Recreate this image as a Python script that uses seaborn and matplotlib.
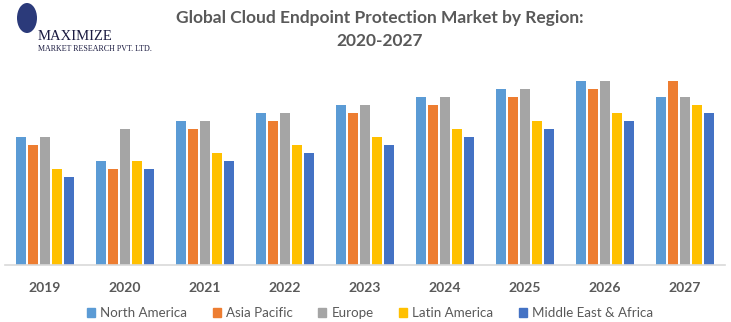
import matplotlib
matplotlib.use("Agg")
import matplotlib.pyplot as plt
import seaborn as sns
import pandas as pd
from matplotlib.patches import Ellipse

years = ["2019", "2020", "2021", "2022", "2023", "2024", "2025", "2026", "2027"]
regions = ["North America", "Asia Pacific", "Europe", "Latin America", "Middle East & Africa"]
north_america = [16, 13, 18, 19, 20, 21, 22, 23, 21]
asia_pacific = [15, 12, 17, 18, 19, 20, 21, 22, 23]
europe = [16, 17, 18, 19, 20, 21, 22, 23, 21]
latin_america = [12, 13, 14, 15, 16, 17, 18, 19, 20]
middle_east_africa = [11, 12, 13, 14, 15, 16, 17, 18, 19]
colors = ["#5B9BD5", "#ED7D31", "#A5A5A5", "#FFC000", "#4472C4"]

series = [north_america, asia_pacific, europe, latin_america, middle_east_africa]
df = pd.DataFrame([
    {"Year": y, "Region": r, "Value": v}
    for r, vals in zip(regions, series) for y, v in zip(years, vals)
])

sns.set_style("white")
plt.rcParams["font.family"] = ["Lato", "DejaVu Sans"]
fig = plt.figure(figsize=(7.31, 3.22), dpi=100)
ax = fig.add_axes([5/731, 1 - 265/322, 720/731, 200/322])
sns.barplot(data=df, x="Year", y="Value", hue="Region", palette=colors,
            order=years, hue_order=regions, width=0.75, gap=0.17,
            saturation=1, linewidth=0, ax=ax, legend=False)
ax.set_xlim(-0.5, 8.5)
ax.set_ylim(0, 25)
ax.set_yticks([])
ax.set_xlabel("")
ax.set_ylabel("")
for s in ["top", "right", "left"]:
    ax.spines[s].set_visible(False)
ax.spines["bottom"].set_color("#D9D9D9")
ax.spines["bottom"].set_linewidth(1.2)
ax.tick_params(axis="x", length=0, pad=12)
for lab in ax.get_xticklabels():
    lab.set_fontweight("bold")
    lab.set_color("#595959")
    lab.set_fontsize(10)

# Legend
handles = [plt.Rectangle((0, 0), 1, 1, color=c) for c in colors]
fig.legend(handles, regions, loc="center", bbox_to_anchor=(370/731, 1 - 313/322),
           ncol=5, frameon=False, fontsize=9.6, handlelength=0.6, handleheight=0.6,
           handletextpad=0.4, columnspacing=1.9, labelcolor="#595959")

# Title
fig.text(380/731, 1 - 18/322, "Global Cloud Endpoint Protection Market by Region:",
         ha="center", va="center", fontsize=12.5, fontweight="bold", color="#595959")
fig.text(380/731, 1 - 41/322, "2020-2027", ha="center", va="center",
         fontsize=12.5, fontweight="bold", color="#595959")

# Logo
fig.patches.append(Ellipse((27/731, 1 - 18/322), 20/731, 30/322, transform=fig.transFigure,
                           facecolor="#2B3A7A", edgecolor="none"))
fig.text(38/731, 1 - 36/322, "MAXIMIZE", fontsize=10.5, family="Liberation Serif",
         color="#1A1A40", va="center")
fig.text(38/731, 1 - 49/322, "MARKET RESEARCH PVT. LTD.", fontsize=5.8,
         family="Liberation Serif", color="#1A1A40", va="center")

fig.savefig("out.png", dpi=100)
